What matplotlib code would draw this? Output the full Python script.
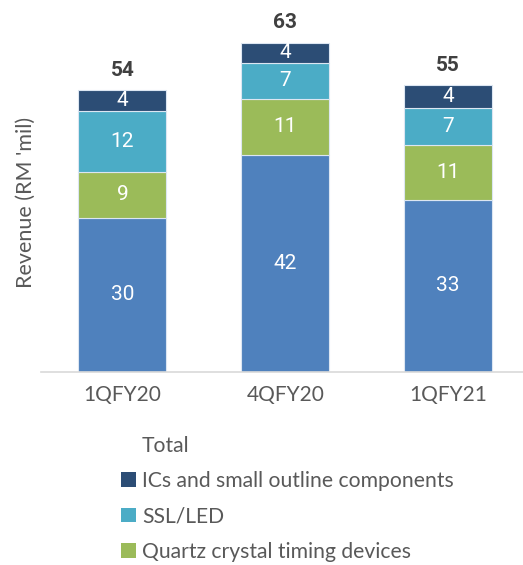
import matplotlib.pyplot as plt
from matplotlib.patches import Patch
import numpy as np

# data (RM 'mil)
quarters = ['1QFY20', '4QFY20', '1QFY21']
other = [29.6, 41.6, 33.0]          # main blue segment (not in visible legend)
quartz = [8.8, 10.8, 10.6]
ssl_led = [11.7, 6.9, 7.1]
ics = [3.9, 3.8, 4.3]
series_names = ['ICs and small outline components', 'SSL/LED', 'Quartz crystal timing devices']

colors = {'other': '#4F81BD', 'quartz': '#9BBB59', 'ssl': '#4BACC6', 'ics': '#2C4D75'}
label_font = 'Roboto'
text_font = 'Lato'
grey = '#595959'

fig = plt.figure(figsize=(5.23, 5.65), dpi=100)
ax = fig.add_axes([41 / 523, 193 / 565, 482 / 523, 339 / 565])

x = np.arange(len(quarters))
width = 0.54
bottom = np.zeros(len(quarters))
stack = [(other, colors['other']), (quartz, colors['quartz']),
         (ssl_led, colors['ssl']), (ics, colors['ics'])]
for vals, c in stack:
    vals = np.array(vals)
    ax.bar(x, vals, width, bottom=bottom, color=c, edgecolor='#dce6f2', linewidth=0.8)
    for xi, b, v in zip(x, bottom, vals):
        ax.text(xi, b + v / 2, f'{v:.0f}', ha='center', va='center', color='white',
                fontsize=15, family=label_font)
    bottom += vals

totals = bottom
for xi, t in zip(x, totals):
    ax.text(xi, t + 2.0, f'{t:.0f}', ha='center', va='bottom', color='#404040',
            fontsize=15, fontweight='bold', family=label_font, clip_on=False)

ax.set_xlim(-0.5, 2.46)
ax.set_ylim(0, 65)
ax.set_xticks(x)
ax.set_xticklabels(quarters, fontsize=15, color=grey, family=text_font)
ax.tick_params(axis='x', length=0, pad=9)
ax.set_yticks([])
for s in ['top', 'right', 'left']:
    ax.spines[s].set_visible(False)
ax.spines['bottom'].set_color('#d9d9d9')
ax.spines['bottom'].set_linewidth(1.2)
ax.set_ylabel("Revenue (RM 'mil)", fontsize=15.5, color=grey, family=text_font, labelpad=4)

handles = [Patch(facecolor='none', edgecolor='none', label='Total'),
           Patch(facecolor=colors['ics'], label=series_names[0]),
           Patch(facecolor=colors['ssl'], label=series_names[1]),
           Patch(facecolor=colors['quartz'], label=series_names[2])]
leg = fig.legend(handles=handles, loc='upper left', bbox_to_anchor=(121 / 523, 1 - 436 / 565),
                 frameon=False, prop={'family': text_font, 'size': 15.2},
                 handlelength=0.7, handleheight=0.7, handletextpad=0.3, labelspacing=0.72,
                 borderaxespad=0, borderpad=0)
for t in leg.get_texts():
    t.set_color(grey)

fig.savefig('out.png', dpi=100)
